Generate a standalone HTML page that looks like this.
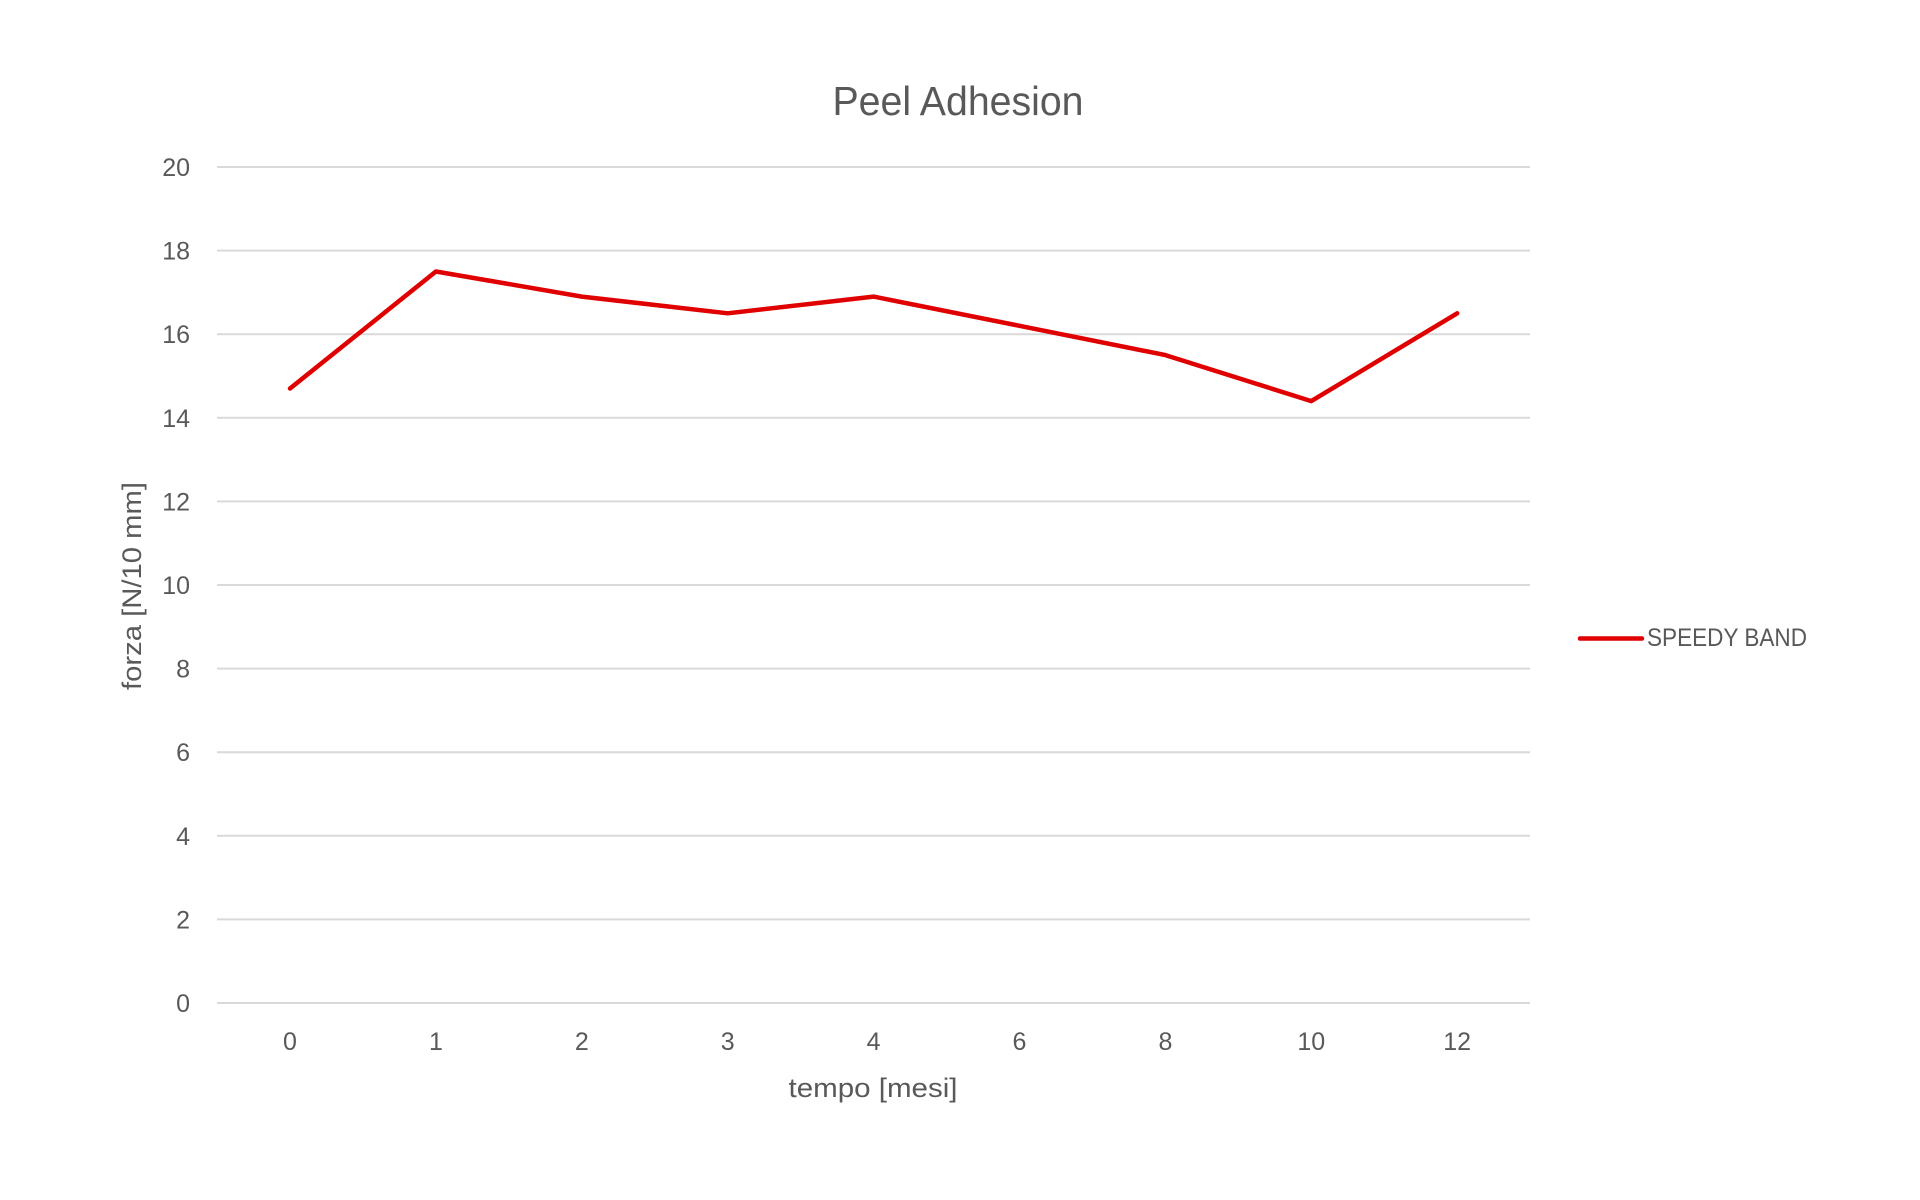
<!DOCTYPE html>
<html>
<head>
<meta charset="utf-8">
<style>
  html, body { margin: 0; padding: 0; background: #ffffff; }
  svg { display: block; }
  text { font-family: "Liberation Sans", "DejaVu Sans", sans-serif; fill: #595959; }
</style>
</head>
<body>
<svg width="1920" height="1200" viewBox="0 0 1920 1200" xmlns="http://www.w3.org/2000/svg">
  <rect x="0" y="0" width="1920" height="1200" fill="#ffffff"/>

  <!-- Title -->
  <text x="958" y="115" font-size="41" text-anchor="middle" textLength="251" lengthAdjust="spacingAndGlyphs">Peel Adhesion</text>

  <!-- Gridlines -->
  <g stroke="#d9d9d9" stroke-width="2">
    <line x1="217" y1="167" x2="1530" y2="167"/>
    <line x1="217" y1="250.6" x2="1530" y2="250.6"/>
    <line x1="217" y1="334.2" x2="1530" y2="334.2"/>
    <line x1="217" y1="417.8" x2="1530" y2="417.8"/>
    <line x1="217" y1="501.4" x2="1530" y2="501.4"/>
    <line x1="217" y1="585" x2="1530" y2="585"/>
    <line x1="217" y1="668.6" x2="1530" y2="668.6"/>
    <line x1="217" y1="752.2" x2="1530" y2="752.2"/>
    <line x1="217" y1="835.8" x2="1530" y2="835.8"/>
    <line x1="217" y1="919.4" x2="1530" y2="919.4"/>
    <line x1="217" y1="1003" x2="1530" y2="1003"/>
  </g>

  <!-- Y tick labels -->
  <g font-size="25" text-anchor="end">
    <text x="190" y="176">20</text>
    <text x="190" y="259.6">18</text>
    <text x="190" y="343.2">16</text>
    <text x="190" y="426.8">14</text>
    <text x="190" y="510.4">12</text>
    <text x="190" y="594">10</text>
    <text x="190" y="677.6">8</text>
    <text x="190" y="761.2">6</text>
    <text x="190" y="844.8">4</text>
    <text x="190" y="928.4">2</text>
    <text x="190" y="1012">0</text>
  </g>

  <!-- X tick labels -->
  <g font-size="25" text-anchor="middle">
    <text x="290" y="1050">0</text>
    <text x="435.9" y="1050">1</text>
    <text x="581.8" y="1050">2</text>
    <text x="727.7" y="1050">3</text>
    <text x="873.6" y="1050">4</text>
    <text x="1019.5" y="1050">6</text>
    <text x="1165.4" y="1050">8</text>
    <text x="1311.3" y="1050">10</text>
    <text x="1457.2" y="1050">12</text>
  </g>

  <!-- Axis titles -->
  <text x="873" y="1097" font-size="27" text-anchor="middle" textLength="169" lengthAdjust="spacingAndGlyphs">tempo [mesi]</text>
  <text transform="translate(141,586) rotate(-90)" x="0" y="0" font-size="27" text-anchor="middle" textLength="208" lengthAdjust="spacingAndGlyphs">forza [N/10 mm]</text>

  <!-- Series -->
  <polyline fill="none" stroke="#e00000" stroke-width="4.5" stroke-linejoin="round" stroke-linecap="round"
    points="290,388.5 435.9,271.5 581.8,296.6 727.7,313.3 873.6,296.6 1019.5,325.8 1165.4,355.1 1311.3,401.1 1457.2,313.3"/>

  <!-- Legend -->
  <line x1="1580" y1="638.5" x2="1642" y2="638.5" stroke="#e00000" stroke-width="4.5" stroke-linecap="round"/>
  <text x="1647" y="646" font-size="25" textLength="160" lengthAdjust="spacingAndGlyphs">SPEEDY BAND</text>
</svg>
</body>
</html>
